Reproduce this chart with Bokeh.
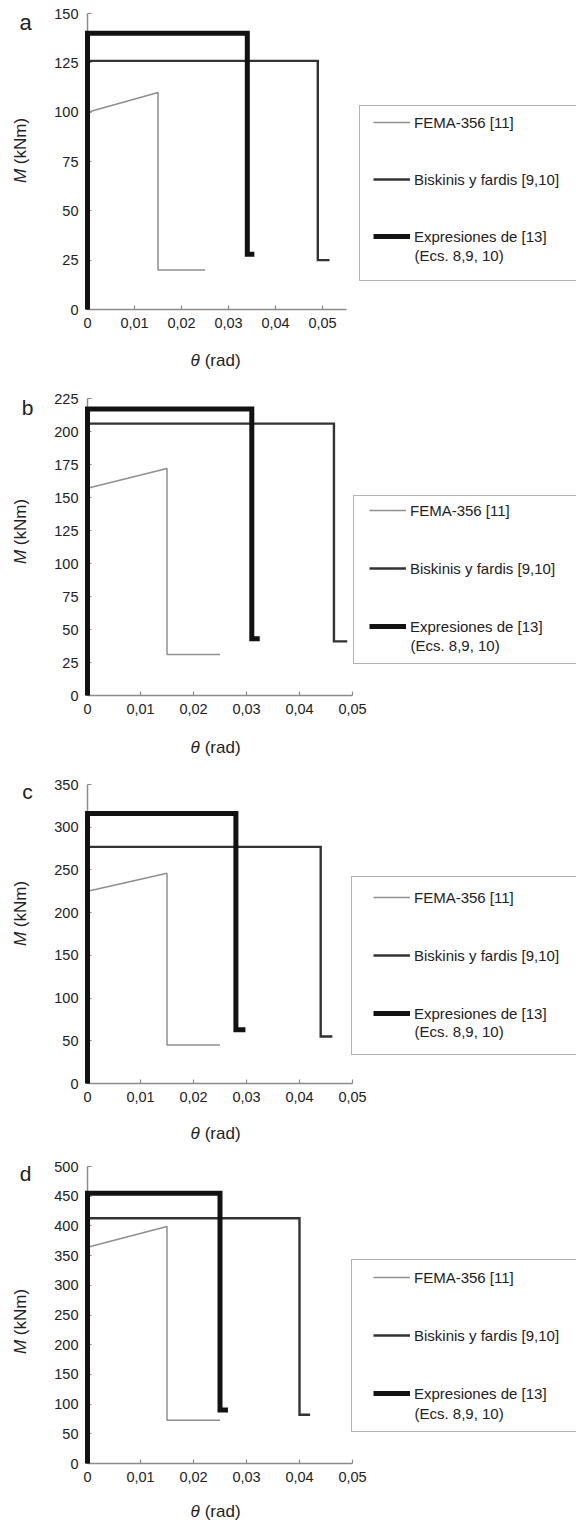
import math
from bokeh.plotting import figure
from bokeh.layouts import column
from bokeh.models import FixedTicker, Legend, LegendItem, Label, BoxAnnotation, Range1d
from bokeh.embed import file_html
from bokeh.resources import INLINE

# ---------------- data ----------------
panel_letters = ["a", "b", "c", "d"]
series_labels = ["FEMA-356 [11]", "Biskinis y fardis [9,10]", "Expresiones de [13]"]
series_note = "(Ecs. 8,9, 10)"
x_label_sym, x_label_rest = "θ", "(rad)"
y_label_sym, y_label_rest = "M", "(kNm)"

x_ticks = [0, 0.01, 0.02, 0.03, 0.04, 0.05]
x_tick_labels = ["0", "0,01", "0,02", "0,03", "0,04", "0,05"]

a_y_ticks = [0, 25, 50, 75, 100, 125, 150]
b_y_ticks = [0, 25, 50, 75, 100, 125, 150, 175, 200, 225]
c_y_ticks = [0, 50, 100, 150, 200, 250, 300, 350]
d_y_ticks = [0, 50, 100, 150, 200, 250, 300, 350, 400, 450, 500]

a_x_end = 0.055
b_x_end = 0.05
c_x_end = 0.05
d_x_end = 0.05

# panel a
a_fema_x = [0, 0, 0.015, 0.015, 0.025]
a_fema_y = [0, 100, 110, 20, 20]
a_bisk_x = [0, 0, 0.049, 0.049, 0.0515]
a_bisk_y = [0, 126, 126, 25, 25]
a_expr_x = [0, 0, 0.034, 0.034, 0.0355]
a_expr_y = [0, 140, 140, 28, 28]
# panel b
b_fema_x = [0, 0, 0.015, 0.015, 0.025]
b_fema_y = [0, 157, 172, 31, 31]
b_bisk_x = [0, 0, 0.0465, 0.0465, 0.049]
b_bisk_y = [0, 206, 206, 41, 41]
b_expr_x = [0, 0, 0.031, 0.031, 0.0325]
b_expr_y = [0, 217, 217, 43, 43]
# panel c
c_fema_x = [0, 0, 0.015, 0.015, 0.025]
c_fema_y = [0, 225, 246, 45, 45]
c_bisk_x = [0, 0, 0.044, 0.044, 0.0462]
c_bisk_y = [0, 277, 277, 55, 55]
c_expr_x = [0, 0, 0.028, 0.028, 0.0298]
c_expr_y = [0, 316, 316, 63, 63]
# panel d
d_fema_x = [0, 0, 0.015, 0.015, 0.025]
d_fema_y = [0, 364, 399, 73, 73]
d_bisk_x = [0, 0, 0.040, 0.040, 0.042]
d_bisk_y = [0, 413, 413, 82, 82]
d_expr_x = [0, 0, 0.025, 0.025, 0.0265]
d_expr_y = [0, 455, 455, 90, 90]

# ---------------- layout / style ----------------
W = 576
ZERO_X = 87          # pixel column of theta = 0
FONT = "Liberation Sans"
TXT = "#222222"
AXIS_COL = "#8c8c8c"
STYLES = [
    dict(line_color="#8f8f8f", line_width=1.5),
    dict(line_color="#333333", line_width=2.4, line_join="miter"),
    dict(line_color="#121212", line_width=5, line_join="miter", line_cap="butt"),
]

SPECS = [
    dict(fig=(0, 375), plot=(13, 309), sc=4700, box=(359, 105, 280), glyph=373, first=122,
         spacing=37, note=255, ylab=150, xlab=360, letter=(25, 22), fs_letter="22px"),
    dict(fig=(375, 760), plot=(398, 695), sc=5300, box=(353, 495, 663), glyph=369, first=510,
         spacing=38, note=645, ylab=531, xlab=747, letter=(27, 407), fs_letter="21px"),
    dict(fig=(760, 1145), plot=(784, 1083), sc=5300, box=(351, 876, 1054), glyph=373, first=897,
         spacing=38, note=1031, ylab=913, xlab=1133, letter=(27, 791), fs_letter="21px"),
    dict(fig=(1145, 1523), plot=(1166, 1463), sc=5300, box=(351, 1259, 1431), glyph=373, first=1277,
         spacing=38, note=1413, ylab=1321, xlab=1511, letter=(25, 1173), fs_letter="21px"),
]

DATA = [
    ([(a_fema_x, a_fema_y), (a_bisk_x, a_bisk_y), (a_expr_x, a_expr_y)], a_y_ticks, a_x_end),
    ([(b_fema_x, b_fema_y), (b_bisk_x, b_bisk_y), (b_expr_x, b_expr_y)], b_y_ticks, b_x_end),
    ([(c_fema_x, c_fema_y), (c_bisk_x, c_bisk_y), (c_expr_x, c_expr_y)], c_y_ticks, c_x_end),
    ([(d_fema_x, d_fema_y), (d_bisk_x, d_bisk_y), (d_expr_x, d_expr_y)], d_y_ticks, d_x_end),
]


def scr_label(text, x, y, size="15px", style="normal", angle=0, align="left", baseline="middle"):
    return Label(x=x, y=y, x_units="screen", y_units="screen", text=text, angle=angle,
                 text_font=FONT, text_font_size=size, text_font_style=style, text_color=TXT,
                 text_align=align, text_baseline=baseline)


def make_panel(spec, series, y_ticks, x_end, letter):
    fig_top, fig_bot = spec["fig"]
    H = fig_bot - fig_top
    p_top, p_bot = spec["plot"]
    ymax = y_ticks[-1]
    ppu = (p_bot - p_top) / ymax
    y0 = -(fig_bot - p_bot) / ppu
    y1 = ymax + (p_top - fig_top) / ppu
    sc = spec["sc"]
    x0 = -ZERO_X / sc
    x1 = x0 + W / sc
    p = figure(width=W, height=H, output_backend="svg", toolbar_location=None,
               x_range=Range1d(x0, x1), y_range=Range1d(y0, y1),
               min_border_left=0, min_border_right=0, min_border_top=0, min_border_bottom=0)
    p.outline_line_color = None
    p.grid.visible = False
    p.background_fill_color = "white"

    # curves are drawn above the axes so that the heavy curve hides the axis line
    renderers = []
    for (xs, ys), st in zip(series, STYLES):
        renderers.append(p.line(xs, ys, level="annotation", **st))

    # axes (fixed at the origin, so they live inside the frame)
    xa = p.xaxis[0]
    xa.ticker = FixedTicker(ticks=x_ticks)
    xa.major_label_overrides = dict(zip(x_ticks, x_tick_labels))
    xa.bounds = (0, x_end)
    xa.fixed_location = 0
    ya = p.yaxis[0]
    ya.ticker = FixedTicker(ticks=y_ticks)
    ya.bounds = (0, ymax)
    ya.fixed_location = 0
    for ax in (xa, ya):
        ax.axis_line_color = AXIS_COL
        ax.axis_line_width = 1.5
        ax.major_tick_line_color = AXIS_COL
        ax.major_tick_line_width = 1.2
        ax.major_tick_in = 4
        ax.major_tick_out = 0
        ax.minor_tick_line_color = None
        ax.major_label_text_font = FONT
        ax.major_label_text_font_size = "14.5px"
        ax.major_label_text_color = TXT
    xa.major_label_standoff = 8
    ya.major_label_standoff = 9

    # legend
    bl, bt, bb = spec["box"]
    sp = spec["spacing"]
    leg_h = 3 * 20 + 2 * sp
    leg_top = spec["first"] - 10
    legend = Legend(items=[LegendItem(label=lab, renderers=[r]) for lab, r in zip(series_labels, renderers)],
                    location=(spec["glyph"], fig_bot - (leg_top + leg_h)),
                    glyph_width=37, glyph_height=20, label_height=20, label_standoff=4,
                    spacing=sp, padding=0, margin=0, border_line_color=None, background_fill_alpha=0,
                    label_text_font=FONT, label_text_font_size="15px", label_text_color=TXT)
    p.add_layout(legend)
    box = BoxAnnotation(left=bl, right=W + 20, top=fig_bot - bt, bottom=fig_bot - bb,
                        left_units="screen", right_units="screen", top_units="screen", bottom_units="screen",
                        fill_alpha=0, line_color="black", line_width=1)
    p.add_layout(box)
    p.add_layout(scr_label(series_note, spec["glyph"] + 37 + 4, fig_bot - spec["note"]))

    # axis titles (italic symbol + regular rest)
    fs = 17
    sym_w_x = 0.556 * fs + 0.278 * fs
    xl_w = sym_w_x + 2.111 * fs
    xs0 = 215 - xl_w / 2
    p.add_layout(scr_label(x_label_sym, xs0, fig_bot - spec["xlab"], size=f"{fs}px", style="italic"))
    p.add_layout(scr_label(x_label_rest, xs0 + sym_w_x, fig_bot - spec["xlab"], size=f"{fs}px"))
    sym_w_y = 0.833 * fs + 0.278 * fs
    yl_w = sym_w_y + 2.721 * fs
    ybot = spec["ylab"] + yl_w / 2
    p.add_layout(scr_label(y_label_sym, 20, fig_bot - ybot, size=f"{fs}px", style="italic",
                           angle=math.pi / 2))
    p.add_layout(scr_label(y_label_rest, 20, fig_bot - ybot + sym_w_y, size=f"{fs}px",
                           angle=math.pi / 2))

    # panel letter
    lx, ly = spec["letter"]
    p.add_layout(scr_label(letter, lx, fig_bot - ly, size=spec["fs_letter"], align="center",
                           baseline="alphabetic"))
    return p


plots = [make_panel(s, ser, yt, xe, let) for s, (ser, yt, xe), let in zip(SPECS, DATA, panel_letters)]
layout = column(*plots, spacing=0)

with open("out.html", "w") as f:
    f.write(file_html(layout, INLINE))
